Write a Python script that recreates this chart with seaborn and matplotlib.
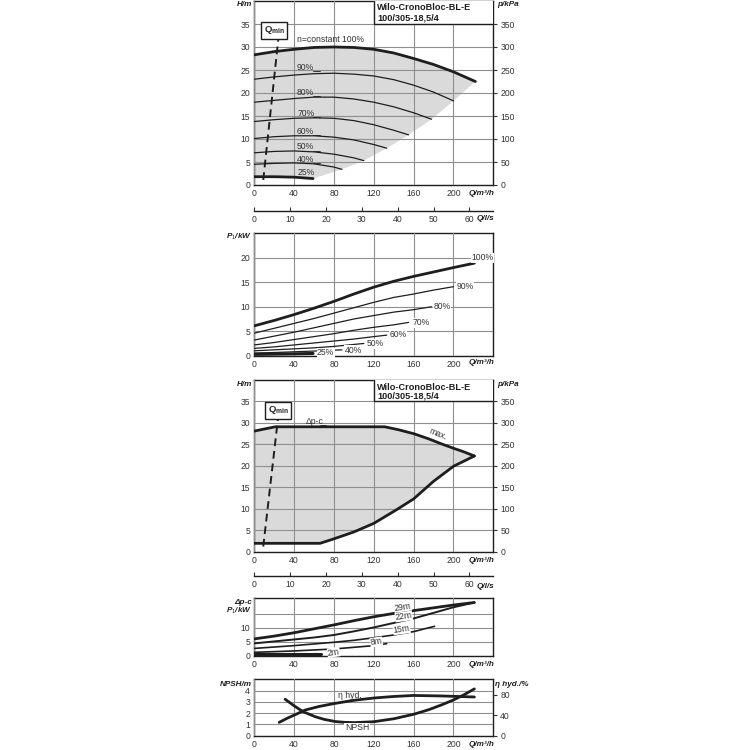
import matplotlib
matplotlib.use("Agg")
import matplotlib.pyplot as plt
from matplotlib import font_manager
import seaborn as sns
import pandas as pd

# ---------------- data ----------------
# Panel 1: head H/m vs Q/m3/h at speed n
q_n100 = [0, 20, 40, 60, 80, 100, 120, 140, 160, 180, 200, 222]
h_n100 = [28.3, 29.0, 29.5, 29.9, 30.0, 29.9, 29.5, 28.7, 27.5, 26.2, 24.6, 22.5]
q_n90 = [0, 20, 40, 60, 80, 100, 120, 140, 160, 180, 200]
h_n90 = [23.0, 23.5, 23.9, 24.2, 24.3, 24.1, 23.7, 22.9, 21.7, 20.2, 18.3]
q_n80 = [0, 20, 40, 60, 80, 100, 120, 140, 160, 178]
h_n80 = [18.0, 18.4, 18.8, 19.1, 19.1, 18.7, 18.0, 17.0, 15.7, 14.3]
q_n70 = [0, 20, 40, 60, 80, 100, 120, 140, 155]
h_n70 = [13.8, 14.2, 14.5, 14.6, 14.5, 14.0, 13.1, 11.9, 10.9]
q_n60 = [0, 20, 40, 60, 80, 100, 120, 133]
h_n60 = [10.1, 10.5, 10.7, 10.7, 10.4, 9.8, 8.8, 8.0]
q_n50 = [0, 20, 40, 60, 80, 100, 110]
h_n50 = [7.0, 7.3, 7.4, 7.2, 6.7, 5.9, 5.3]
q_n40 = [0, 20, 40, 60, 80, 88]
h_n40 = [4.5, 4.7, 4.8, 4.6, 3.9, 3.4]
q_n25 = [0, 20, 40, 59]
h_n25 = [1.8, 1.8, 1.7, 1.4]
# lower limit of the operating range (through the curve end points)
q_limit = [59, 88, 110, 133, 155, 178, 200, 222]
h_limit = [1.4, 3.4, 5.3, 8.0, 10.9, 14.3, 18.3, 22.5]
speed_labels = ['90%', '80%', '70%', '60%', '50%', '40%', '25%']

# Qmin line
qmin_q = [9, 24]
qmin_h = [1.1, 31.5]

# Panel 2: power P1/kW
q_p100 = [0, 20, 40, 60, 80, 100, 120, 140, 160, 180, 200, 221]
p_p100 = [6.1, 7.2, 8.4, 9.7, 11.1, 12.6, 14.0, 15.2, 16.2, 17.1, 18.0, 18.9]
q_p90 = [0, 20, 40, 60, 80, 100, 120, 140, 160, 180, 200]
p_p90 = [4.6, 5.6, 6.6, 7.6, 8.7, 9.8, 10.9, 11.9, 12.6, 13.4, 14.1]
q_p80 = [0, 20, 40, 60, 80, 100, 120, 140, 160, 178]
p_p80 = [3.2, 4.0, 4.8, 5.7, 6.6, 7.5, 8.2, 8.9, 9.4, 10.0]
q_p70 = [0, 20, 40, 60, 80, 100, 120, 140, 155]
p_p70 = [2.2, 2.7, 3.3, 3.9, 4.5, 5.2, 5.8, 6.3, 6.8]
q_p60 = [0, 20, 40, 60, 80, 100, 120, 133]
p_p60 = [1.5, 1.8, 2.2, 2.6, 3.0, 3.4, 3.9, 4.2]
q_p50 = [0, 20, 40, 60, 80, 100, 110]
p_p50 = [1.0, 1.2, 1.4, 1.6, 1.9, 2.3, 2.5]
q_p40 = [0, 20, 40, 60, 88]
p_p40 = [0.55, 0.65, 0.8, 0.95, 1.2]
q_p25 = [0, 20, 40, 59]
p_p25 = [0.27, 0.32, 0.38, 0.45]

# Panel 3: delta-p-c range
q_max = [0, 21, 60, 100, 131, 145, 160, 175, 187, 200, 210, 221]
h_max = [28.1, 29.1, 29.1, 29.1, 29.1, 28.4, 27.5, 26.3, 25.2, 24.1, 23.3, 22.3]
q_min_c = [0, 66, 80, 100, 120, 143, 160, 180, 200, 221]
h_min_c = [1.95, 1.95, 3.0, 4.6, 6.6, 9.8, 12.3, 16.4, 19.9, 22.3]

# Panel 4: power at constant delta-p
q_d29 = [0, 20, 40, 60, 80, 100, 120, 140, 160, 180, 200, 221]
p_d29 = [6.0, 7.0, 8.2, 9.6, 11.0, 12.5, 13.9, 15.1, 16.1, 17.1, 18.1, 19.0]
q_d22 = [0, 20, 40, 60, 80, 100, 120, 140, 160, 180, 200, 221]
p_d22 = [4.4, 5.1, 5.8, 6.5, 7.4, 8.7, 10.1, 11.7, 13.3, 15.3, 17.3, 19.0]
q_d15 = [0, 20, 40, 60, 80, 100, 120, 140, 160, 181]
p_d15 = [2.6, 3.1, 3.6, 4.2, 4.8, 5.5, 6.4, 7.4, 8.6, 10.5]
q_d8 = [0, 40, 80, 120, 133]
p_d8 = [1.2, 1.7, 2.4, 3.6, 4.3]
q_d2 = [0, 67]
p_d2 = [0.5, 0.5]
dp_labels = ['29m', '22m', '15m', '8m', '2m']

# Panel 5: NPSH and hydraulic efficiency
q_eta = [25, 33, 41, 51, 65, 81, 100, 120, 140, 160, 188, 205, 221]
eta = [26, 34, 41, 50, 57, 63, 69, 73.5, 76.5, 78.5, 77.5, 76.5, 75.5]
q_npsh = [31, 40, 49, 61, 70, 81, 90, 101, 120, 140, 160, 175, 188, 200, 210, 221]
npsh = [3.23, 2.65, 2.13, 1.69, 1.45, 1.26, 1.19, 1.16, 1.24, 1.5, 1.9, 2.3, 2.73, 3.17, 3.6, 4.15]

x_ticks = [0, 40, 80, 120, 160, 200]
ls_ticks = [0, 10, 20, 30, 40, 50, 60]
title_lines = ['Wilo-CronoBloc-BL-E', '100/305-18,5/4']

# ---------------- style ----------------
sns.set_style("white")
available = {f.name for f in font_manager.fontManager.ttflist}
cands = [n for n in ['Liberation Sans', 'Roboto', 'Noto Sans'] if n in available]
FAM = cands[:1] + ['DejaVu Sans']
plt.rcParams['font.family'] = FAM
plt.rcParams['mathtext.fontset'] = 'custom'
plt.rcParams['mathtext.rm'] = FAM[0]
plt.rcParams['mathtext.it'] = FAM[0] + ':italic'
plt.rcParams['mathtext.bf'] = FAM[0] + ':bold'
DARK = '#1e1e1e'
GRID = '#8f8f8f'
FILL = '#dadada'
TXT = '#333333'
FS = 6.2

fig = plt.figure(figsize=(7.5, 7.5), dpi=100)


def px_ax(left, top, right, bottom):
    return fig.add_axes([left / 750, 1 - bottom / 750, (right - left) / 750, (bottom - top) / 750])


def ftext(x, y, s, ha='left', va='center', **kw):
    kw.setdefault('fontsize', FS)
    kw.setdefault('color', DARK)
    fig.text(x / 750, 1 - y / 750, s, ha=ha, va=va, **kw)


def axlabel(x, y, s, ha='left'):
    ftext(x, y, s, ha=ha, fontweight='bold', style='italic', fontsize=5.9)


def style(ax, ylim, yticks, ylabels=None):
    ax.set_xlim(0, 240)
    ax.set_ylim(*ylim)
    ax.set_xticks(x_ticks)
    ax.set_yticks(yticks)
    if ylabels is not None:
        ax.set_yticklabels(ylabels)
    ax.set_axisbelow(False)
    ax.grid(True, color=GRID, lw=0.8, zorder=2)
    ax.tick_params(length=0, labelsize=FS, colors=TXT, pad=3)
    for s in ax.spines.values():
        s.set_color(DARK)
        s.set_linewidth(1.0)
    ax.set_xlabel('')
    ax.set_ylabel('')


def curve(ax, q, y, lw=0.9, **kw):
    sns.lineplot(x=q, y=y, ax=ax, color=DARK, lw=lw, sort=False,
                 estimator=None, zorder=4, **kw)


def right_axis(ax, ylim, ticks):
    r = ax.twinx()
    r.set_ylim(*ylim)
    r.set_yticks(ticks)
    r.grid(False)
    r.tick_params(axis='y', direction='out', length=3, width=0.8,
                  labelsize=FS, colors=TXT, pad=2)
    for s in r.spines.values():
        s.set_visible(False)
    return r


def ls_axis(ax, loc):
    sec = ax.secondary_xaxis(loc, functions=(lambda q: q / 3.6, lambda l: l * 3.6))
    sec.set_xticks(ls_ticks)
    sec.tick_params(direction='in', length=3, width=0.8, labelsize=FS,
                    colors=TXT, pad=3)
    sec.spines['bottom'].set_color(DARK)
    sec.spines['bottom'].set_linewidth(1.0)
    return sec


def title_box(ax):
    ax.plot([120, 120], [35, 40], color=DARK, lw=1.0, zorder=5)
    ax.plot([120, 240], [35, 35], color=DARK, lw=1.0, zorder=5)
    ax.add_patch(plt.Rectangle((120, 35), 120, 5, color='white', zorder=3))


def qmin_box(ax, q, h):
    ax.text(q, h, r'$\mathbf{Q}_{\mathbf{min}}$', fontsize=6.8, ha='center',
            va='center', zorder=6,
            bbox=dict(boxstyle='square,pad=0.25', fc='white', ec=DARK, lw=1.0))


# ---------------- panel 1 ----------------
ax1 = px_ax(254.3, 1, 493.3, 185)
style(ax1, (0, 40), list(range(0, 40, 5)))
poly_q = q_n100 + q_limit[::-1] + q_n25[::-1]
poly_h = h_n100 + h_limit[::-1] + h_n25[::-1]
ax1.fill(poly_q, poly_h, color=FILL, lw=0, zorder=1)
title_box(ax1)
curve(ax1, q_n100, h_n100, lw=2.0)
for q, h in [(q_n90, h_n90), (q_n80, h_n80), (q_n70, h_n70), (q_n60, h_n60),
             (q_n50, h_n50), (q_n40, h_n40)]:
    curve(ax1, q, h, lw=0.9)
curve(ax1, q_n25, h_n25, lw=2.0)
curve(ax1, qmin_q, qmin_h, lw=1.4, linestyle=(0, (4, 2.5)))
qmin_box(ax1, 20, 33.6)
ax1.text(43, 31.6, 'n=constant 100%', fontsize=FS, color=TXT, va='center', zorder=6)
lab_h = [25.6, 20.1, 15.6, 11.7, 8.3, 5.6, 2.7]
for lab, h in zip(speed_labels, lab_h):
    ax1.text(43, h, lab, fontsize=FS, color=TXT, va='center', zorder=6)
    if lab != '25%':
        ax1.plot([59, 66], [h - 0.8, h - 0.8], color=DARK, lw=0.6, zorder=5)
r1 = right_axis(ax1, (0, 400), list(range(0, 400, 50)))
ls_axis(ax1, -25.7 / 184)
for i, line in enumerate(title_lines):
    ftext(377, 7 + 10.5 * i, line, fontsize=6.6, fontweight='bold')
axlabel(252, 4, 'H/m', ha='right')
axlabel(497, 5, 'p/kPa')
axlabel(494, 193, 'Q/m³/h', ha='right')
axlabel(494, 219, 'Q/l/s', ha='right')

# ---------------- panel 2 ----------------
ax2 = px_ax(254.3, 233.3, 493.3, 355.7)
style(ax2, (0, 25), [0, 5, 10, 15, 20])
curve(ax2, q_p100, p_p100, lw=2.0)
for q, p in [(q_p90, p_p90), (q_p80, p_p80), (q_p70, p_p70), (q_p60, p_p60),
             (q_p50, p_p50), (q_p40, p_p40)]:
    curve(ax2, q, p, lw=0.9)
curve(ax2, q_p25, p_p25, lw=2.2)
p_lab = [('100%', 218, 20.0), ('90%', 203, 14.2), ('80%', 180, 10.0),
         ('70%', 159, 6.7), ('60%', 136, 4.3), ('50%', 113, 2.4),
         ('40%', 91, 1.1), ('25%', 63, 0.6)]
for lab, q, p in p_lab:
    ax2.text(q, p, lab, fontsize=FS, color=TXT, va='center', zorder=6,
             bbox=dict(fc='white', ec='none', pad=0.3))
axlabel(252, 237, 'P$_1$/kW', ha='right')
axlabel(494, 363, 'Q/m³/h', ha='right')

# ---------------- panel 3 ----------------
ax3 = px_ax(254.3, 380, 493.3, 551.7)
style(ax3, (0, 40), list(range(0, 40, 5)))
ax3.fill(q_max + q_min_c[::-1], h_max + h_min_c[::-1], color=FILL, lw=0, zorder=1)
title_box(ax3)
curve(ax3, q_max, h_max, lw=2.0)
curve(ax3, q_min_c, h_min_c, lw=2.0)
curve(ax3, qmin_q, [1.2, 31.5], lw=1.4, linestyle=(0, (4, 2.5)))
qmin_box(ax3, 24, 32.9)
ax3.text(52, 30.3, 'Δp-c', fontsize=FS, color=TXT, va='center', zorder=6)
ax3.plot([66, 72], [29.5, 29.5], color=DARK, lw=0.6, zorder=5)
ax3.text(174, 27.4, 'max.', fontsize=FS, color=TXT, va='center', rotation=-22, zorder=6)
right_axis(ax3, (0, 400), list(range(0, 400, 50)))
ls_axis(ax3, -24.3 / 171.7)
for i, line in enumerate(title_lines):
    ftext(377, 387 + 9.5 * i, line, fontsize=6.6, fontweight='bold')
axlabel(252, 384, 'H/m', ha='right')
axlabel(497, 385, 'p/kPa')
axlabel(494, 560, 'Q/m³/h', ha='right')
axlabel(494, 586, 'Q/l/s', ha='right')

# ---------------- panel 4 ----------------
ax4 = px_ax(254.3, 598.3, 493.3, 655.7)
style(ax4, (0, 20.5), [0, 5, 10, 15], ['0', '5', '10', ''])
curve(ax4, q_d29, p_d29, lw=2.0)
curve(ax4, q_d22, p_d22, lw=1.4)
curve(ax4, q_d15, p_d15, lw=1.2)
curve(ax4, q_d8, p_d8, lw=1.2)
curve(ax4, q_d2, p_d2, lw=2.2)
d_pos = [(140, 17.4), (141, 14.0), (139, 9.4), (116, 4.9), (73, 1.2)]
for lab, (q, p) in zip(dp_labels, d_pos):
    ax4.text(q, p, lab, fontsize=FS, color=TXT, va='center', rotation=8, zorder=6,
             bbox=dict(fc='white', ec='none', pad=0.2))
axlabel(252, 602, 'Δp-c', ha='right')
axlabel(252, 611, 'P$_1$/kW', ha='right')
axlabel(494, 664, 'Q/m³/h', ha='right')

# ---------------- panel 5 ----------------
ax5 = px_ax(254.3, 679.3, 493.3, 735.7)
style(ax5, (0, 5.0), [0, 1, 2, 3, 4])
curve(ax5, q_npsh, npsh, lw=2.0)
r5 = right_axis(ax5, (0, 110), [0, 40, 80])
sns.lineplot(x=q_eta, y=eta, ax=r5, color=DARK, lw=2.0, sort=False, estimator=None)
ax5.text(84, 3.6, 'η hyd.', fontsize=FS, color=TXT, va='center', zorder=6)
ax5.text(91, 0.7, 'NPSH', fontsize=FS, color=TXT, va='center', zorder=6,
         bbox=dict(fc='white', ec='none', pad=0.3))
axlabel(252, 684, 'NPSH/m', ha='right')
axlabel(495, 684, 'η hyd./%')
axlabel(494, 745, 'Q/m³/h', ha='right')

fig.savefig('out.png', dpi=100)
